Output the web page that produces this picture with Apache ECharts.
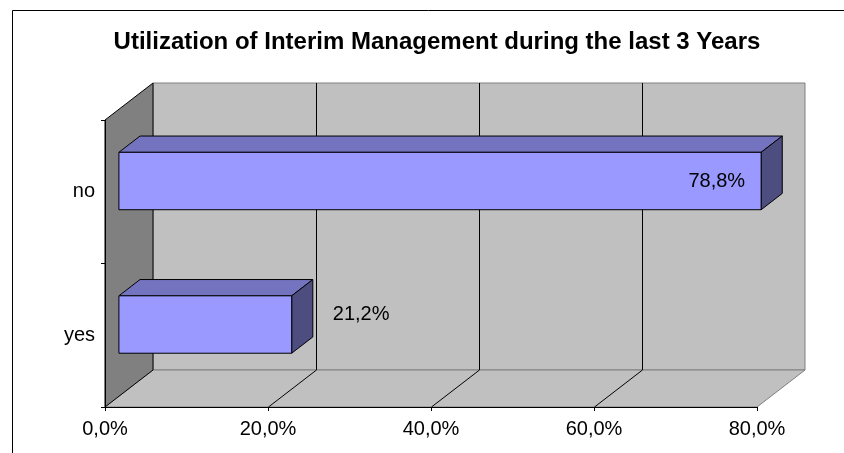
<!DOCTYPE html>
<html>
<head>
<meta charset="utf-8">
<script src="https://cdn.jsdelivr.net/npm/echarts@6/dist/echarts.min.js"></script>
<style>
	html, body { margin: 0; padding: 0; background: #fff; }
	#main { width: 844px; height: 453px; }
</style>
</head>
<body>
<div id="main"></div>
<script>
// data
var categories = ['yes', 'no'];
var values = [0.212, 0.788];
var xTicks = [0, 0.2, 0.4, 0.6, 0.8];

// 3d look: full depth offset of the walls, bar sits between FRONT and BACK of it
var DX = 48, DY = -37;
var FRONT = 0.29, BACK = 0.73;
var BAR_RATIO = 0.4;
var FONT = '"Liberation Sans", Arial, sans-serif';

function pct(v) {
	return (v * 100).toFixed(1).replace('.', ',') + '%';
}

// back wall, left wall, floor and grid lines
function renderWalls(params, api) {
	var cs = params.coordSys;
	var l = cs.x, t = cs.y, r = cs.x + cs.width, b = cs.y + cs.height;
	var children = [];
	children.push({
		type: 'polygon',
		shape: { points: [[l + DX, t + DY], [r + DX, t + DY], [r + DX, b + DY], [l + DX, b + DY]] },
		style: { fill: '#c0c0c0', stroke: '#808080', lineWidth: 1 }
	});
	children.push({
		type: 'polygon',
		shape: { points: [[l, b], [r, b], [r + DX, b + DY], [l + DX, b + DY]] },
		style: { fill: '#c0c0c0', stroke: '#808080', lineWidth: 1 }
	});
	children.push({
		type: 'polygon',
		shape: { points: [[l, t], [l + DX, t + DY], [l + DX, b + DY], [l, b]] },
		style: { fill: '#808080', stroke: '#000', lineWidth: 1 }
	});
	for (var i = 1; i < xTicks.length - 1; i++) {
		var x = Math.round(api.coord([xTicks[i], 0])[0]) + 0.5;
		children.push({
			type: 'line',
			shape: { x1: x + DX, y1: t + DY, x2: x + DX, y2: b + DY },
			style: { stroke: '#000', lineWidth: 1 }
		});
		children.push({
			type: 'line',
			shape: { x1: x, y1: b, x2: x + DX, y2: b + DY },
			style: { stroke: '#000', lineWidth: 1 }
		});
	}
	return { type: 'group', children: children };
}

// 3d bars
function renderBar(params, api) {
	var v = api.value(0), c = api.value(1);
	var start = api.coord([0, c]);
	var end = api.coord([v, c]);
	var h = api.size([0, 1])[1] * BAR_RATIO;
	var fx = DX * FRONT, fy = DY * FRONT;
	var ddx = DX * (BACK - FRONT), ddy = DY * (BACK - FRONT);
	var x0 = start[0] + fx, x1 = end[0] + fx;
	var y0 = end[1] - h / 2 + fy, y1 = end[1] + h / 2 + fy;
	var edge = { stroke: '#000', lineWidth: 1 };
	var inside = v > 0.5;
	return {
		type: 'group',
		children: [
			{ type: 'polygon', shape: { points: [[x0, y0], [x1, y0], [x1 + ddx, y0 + ddy], [x0 + ddx, y0 + ddy]] },
				style: Object.assign({ fill: '#7373bf' }, edge) },
			{ type: 'polygon', shape: { points: [[x1, y0], [x1 + ddx, y0 + ddy], [x1 + ddx, y1 + ddy], [x1, y1]] },
				style: Object.assign({ fill: '#4d4d80' }, edge) },
			{ type: 'rect', shape: { x: x0, y: y0, width: x1 - x0, height: y1 - y0 },
				style: Object.assign({ fill: '#9999ff' }, edge) },
			{ type: 'text', z2: 10,
				x: inside ? x1 - 16 : x1 + ddx + 20,
				y: inside ? end[1] + fy : end[1] + fy - 10,
				style: { text: pct(v), fill: '#000', font: '20px ' + FONT,
					align: inside ? 'right' : 'left', verticalAlign: 'middle' } }
		]
	};
}

var chart = echarts.init(document.getElementById('main'));
var option = {
	animation: false,
	backgroundColor: '#fff',
	title: {
		text: 'Utilization of Interim Management during the last 3 Years',
		left: 432,
		top: 25,
		textAlign: 'center',
		textStyle: { fontFamily: FONT, fontSize: 24, fontWeight: 'bold', color: '#000' }
	},
	graphic: [{
		type: 'rect',
		left: 10, top: 8,
		shape: { width: 900, height: 500 },
		style: { fill: 'none', stroke: '#000', lineWidth: 1 },
		silent: true
	}],
	grid: { left: 105, right: 87, top: 120, bottom: 46 },
	xAxis: {
		type: 'value',
		min: 0,
		max: 0.8,
		interval: 0.2,
		z: 5,
		splitLine: { show: false },
		axisLine: { show: true, lineStyle: { color: '#000' } },
		axisTick: { show: true, length: 4, lineStyle: { color: '#000' } },
		axisLabel: { formatter: pct, color: '#000', fontFamily: FONT, fontSize: 20, margin: 12 }
	},
	yAxis: {
		type: 'category',
		data: categories,
		z: 5,
		axisLine: { show: true, lineStyle: { color: '#000' } },
		axisTick: { show: true, length: 4, lineStyle: { color: '#000' } },
		axisLabel: { color: '#000', fontFamily: FONT, fontSize: 20, margin: 10 }
	},
	series: [
		{
			type: 'custom',
			renderItem: renderWalls,
			data: [[0, 0]],
			encode: { x: 0, y: 1 },
			silent: true,
			z: 1
		},
		{
			type: 'custom',
			renderItem: renderBar,
			data: categories.map(function (c, i) { return [values[i], i]; }),
			encode: { x: 0, y: 1 },
			z: 3
		}
	]
};
chart.setOption(option);
</script>
</body>
</html>
